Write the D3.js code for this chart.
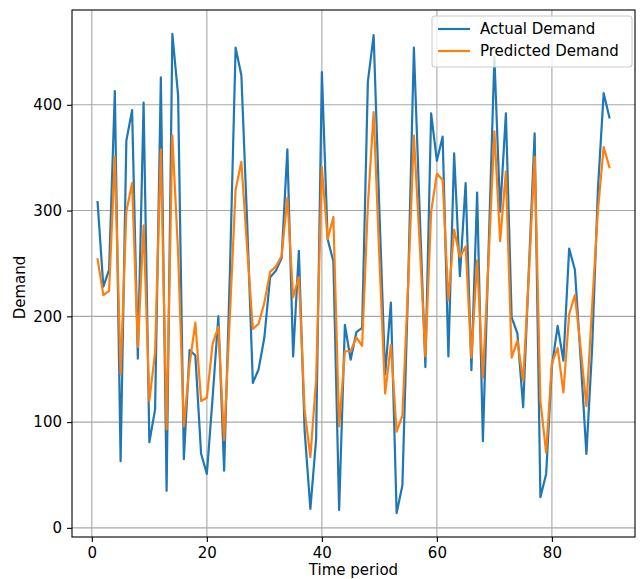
<!DOCTYPE html>
<html>
<style>
body { margin: 0; background: #fff; }
text { font-family: "DejaVu Sans", sans-serif; }
</style>
<head>
  <title>Demand</title>
</head>
<body>
  <script type="text/javascript" src="https://d3js.org/d3.v7.min.js" charset="utf-8"></script>
  <script type="text/javascript">
  'use strict'

  const w = 640
  const h = 579
  const margin = { top: 10, right: 5, bottom: 42, left: 72 }

  // series, one value per time period (1..90)
  const actual = [
    308, 228, 244, 413, 63, 366, 395, 160, 402, 81,
    112, 426, 35, 467, 409, 65, 168, 163, 70, 51,
    123, 200, 54, 240, 454, 428, 290, 137, 150, 180,
    237, 243, 255, 358, 162, 262, 92, 18, 84, 431,
    273, 252, 17, 192, 159, 185, 189, 422, 466, 300,
    145, 213, 14, 40, 230, 454, 300, 152, 392, 347,
    370, 162, 354, 238, 326, 149, 317, 82, 265, 445,
    299, 392, 199, 184, 114, 245, 373, 29, 51, 153,
    191, 158, 264, 244, 160, 70, 170, 320, 411, 388
  ]
  const predicted = [
    254, 220, 224, 351, 145, 299, 326, 171, 286, 120,
    166, 358, 93, 371, 260, 96, 155, 194, 120, 123,
    174, 190, 83, 200, 320, 346, 265, 188, 193, 213,
    242, 247, 257, 312, 218, 237, 111, 67, 140, 341,
    273, 294, 96, 167, 167, 180, 172, 305, 393, 255,
    127, 173, 91, 106, 230, 371, 270, 162, 299, 335,
    329, 215, 282, 256, 266, 161, 253, 142, 255, 375,
    271, 337, 161, 177, 139, 240, 351, 120, 71, 156,
    170, 128, 202, 220, 170, 115, 210, 300, 360, 341
  ]
  const periods = actual.map((d, i) => i + 1)
  const xTicks = [0, 20, 40, 60, 80]
  const yTicks = [0, 100, 200, 300, 400]
  const seriesNames = ['Actual Demand', 'Predicted Demand']
  const colors = ['#1f77b4', '#ff7f0e']

  const fs = '15px'
  const iw = w - margin.left - margin.right
  const ih = h - margin.top - margin.bottom

  // matplotlib-like 5% padding
  const pad = (lo, hi) => [lo - (hi - lo) * 0.05, hi + (hi - lo) * 0.05]
  const allY = actual.concat(predicted)

  const x = d3.scaleLinear()
    .domain(pad(d3.min(periods), d3.max(periods)))
    .range([0, iw])
  const y = d3.scaleLinear()
    .domain(pad(d3.min(allY), d3.max(allY)))
    .range([ih, 0])

  const svg = d3.select('body')
    .append('svg')
    .attr('width', w)
    .attr('height', h)

  const g = svg.append('g')
    .attr('transform', `translate(${margin.left},${margin.top})`)

  // grid
  g.append('g')
    .selectAll('line')
    .data(xTicks)
    .enter()
    .append('line')
    .attr('x1', d => x(d)).attr('x2', d => x(d))
    .attr('y1', 0).attr('y2', ih)
    .attr('stroke', '#a8a8a8')
    .attr('stroke-width', 1.1)
  g.append('g')
    .selectAll('line')
    .data(yTicks)
    .enter()
    .append('line')
    .attr('x1', 0).attr('x2', iw)
    .attr('y1', d => y(d)).attr('y2', d => y(d))
    .attr('stroke', '#a8a8a8')
    .attr('stroke-width', 1.1)

  // lines
  const series = [actual, predicted]
  const line = d3.line()
    .x((d, i) => x(periods[i]))
    .y(d => y(d))

  series.forEach((s, k) => {
    g.append('path')
      .datum(s)
      .attr('d', line)
      .attr('fill', 'none')
      .attr('stroke', colors[k])
      .attr('stroke-width', 2.2)
      .attr('stroke-linejoin', 'round')
      .attr('stroke-linecap', 'square')
  })

  // axes
  const xAxis = g.append('g')
    .attr('transform', `translate(0,${ih})`)
    .call(d3.axisBottom(x).tickValues(xTicks).tickSize(5).tickPadding(5).tickFormat(d3.format('d')))
  const yAxis = g.append('g')
    .call(d3.axisLeft(y).tickValues(yTicks).tickSize(5).tickPadding(5).tickFormat(d3.format('d')))

  ;[xAxis, yAxis].forEach(a => {
    a.select('.domain').remove()
    a.selectAll('text')
      .attr('font-family', 'DejaVu Sans')
      .attr('font-size', fs)
      .attr('fill', '#000')
    a.selectAll('line').attr('stroke', '#000').attr('stroke-width', 1.1)
  })

  // frame
  g.append('rect')
    .attr('width', iw)
    .attr('height', ih)
    .attr('fill', 'none')
    .attr('stroke', '#000')
    .attr('stroke-width', 1.1)

  // axis labels
  svg.append('text')
    .text('Time period')
    .attr('x', margin.left + iw / 2)
    .attr('y', h - 4)
    .attr('text-anchor', 'middle')
    .attr('font-size', fs)

  svg.append('text')
    .text('Demand')
    .attr('transform', `translate(25,${margin.top + ih / 2 + 14}) rotate(-90)`)
    .attr('text-anchor', 'middle')
    .attr('font-size', fs)

  // legend
  const leg = svg.append('g')
    .attr('transform', 'translate(432,16)')
  leg.append('rect')
    .attr('width', 200)
    .attr('height', 51)
    .attr('rx', 3)
    .attr('fill', 'rgba(255,255,255,0.8)')
    .attr('stroke', '#cccccc')
    .attr('stroke-width', 1.1)

  const items = leg.selectAll('g.item')
    .data(seriesNames)
    .enter()
    .append('g')
    .attr('transform', (d, i) => `translate(0,${13 + i * 22})`)
  items.append('line')
    .attr('x1', 6).attr('x2', 38)
    .attr('stroke', (d, i) => colors[i])
    .attr('stroke-width', 2.2)
  items.append('text')
    .text(d => d)
    .attr('x', 48)
    .attr('dy', '0.35em')
    .attr('font-size', fs)
  </script>
</body>
</html>
